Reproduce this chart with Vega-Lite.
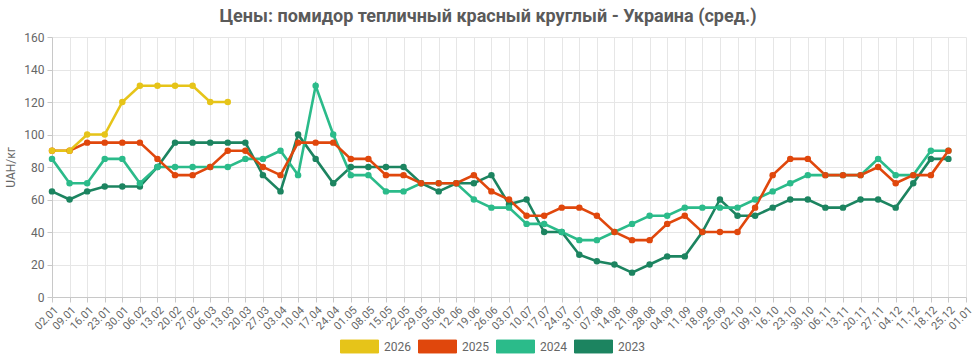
{
  "$schema": "https://vega.github.io/schema/vega-lite/v6.json",
  "autosize": "none",
  "width": 914,
  "height": 260,
  "padding": {"left": 52, "top": 37, "right": 8, "bottom": 64},
  "background": "white",
  "title": {
    "text": "Цены: помидор тепличный красный круглый - Украина (сред.)",
    "font": "Roboto",
    "fontSize": 18,
    "fontWeight": "bold",
    "color": "#5a5a5a",
    "anchor": "middle",
    "dx": -21,
    "offset": 5
  },
  "config": {
    "font": "Roboto",
    "view": {"stroke": null},
    "axis": {
      "gridColor": "#e6e6e6",
      "domainColor": "#c8c8c8",
      "tickColor": "#c8c8c8",
      "labelColor": "#666666",
      "titleColor": "#666666",
      "labelFont": "Roboto",
      "titleFont": "Roboto"
    }
  },
  "data": {
    "values": [
      {"d":"02.01","y":"2023","v":65},{"d":"09.01","y":"2023","v":60},{"d":"16.01","y":"2023","v":65},{"d":"23.01","y":"2023","v":68},{"d":"30.01","y":"2023","v":68},{"d":"06.02","y":"2023","v":68},{"d":"13.02","y":"2023","v":80},{"d":"20.02","y":"2023","v":95},{"d":"27.02","y":"2023","v":95},{"d":"06.03","y":"2023","v":95},{"d":"13.03","y":"2023","v":95},{"d":"20.03","y":"2023","v":95},{"d":"27.03","y":"2023","v":75},{"d":"03.04","y":"2023","v":65},{"d":"10.04","y":"2023","v":100},{"d":"17.04","y":"2023","v":85},{"d":"24.04","y":"2023","v":70},{"d":"01.05","y":"2023","v":80},{"d":"08.05","y":"2023","v":80},{"d":"15.05","y":"2023","v":80},{"d":"22.05","y":"2023","v":80},{"d":"29.05","y":"2023","v":70},{"d":"05.06","y":"2023","v":65},{"d":"12.06","y":"2023","v":70},{"d":"19.06","y":"2023","v":70},{"d":"26.06","y":"2023","v":75},{"d":"03.07","y":"2023","v":57},{"d":"10.07","y":"2023","v":60},{"d":"17.07","y":"2023","v":40},{"d":"24.07","y":"2023","v":40},{"d":"31.07","y":"2023","v":26},{"d":"07.08","y":"2023","v":22},{"d":"14.08","y":"2023","v":20},{"d":"21.08","y":"2023","v":15},{"d":"28.08","y":"2023","v":20},{"d":"04.09","y":"2023","v":25},{"d":"11.09","y":"2023","v":25},{"d":"18.09","y":"2023","v":40},{"d":"25.09","y":"2023","v":60},{"d":"02.10","y":"2023","v":50},{"d":"09.10","y":"2023","v":50},{"d":"16.10","y":"2023","v":55},{"d":"23.10","y":"2023","v":60},{"d":"30.10","y":"2023","v":60},{"d":"06.11","y":"2023","v":55},{"d":"13.11","y":"2023","v":55},{"d":"20.11","y":"2023","v":60},{"d":"27.11","y":"2023","v":60},{"d":"04.12","y":"2023","v":55},{"d":"11.12","y":"2023","v":70},{"d":"18.12","y":"2023","v":85},{"d":"25.12","y":"2023","v":85},
      {"d":"02.01","y":"2024","v":85},{"d":"09.01","y":"2024","v":70},{"d":"16.01","y":"2024","v":70},{"d":"23.01","y":"2024","v":85},{"d":"30.01","y":"2024","v":85},{"d":"06.02","y":"2024","v":70},{"d":"13.02","y":"2024","v":80},{"d":"20.02","y":"2024","v":80},{"d":"27.02","y":"2024","v":80},{"d":"06.03","y":"2024","v":80},{"d":"13.03","y":"2024","v":80},{"d":"20.03","y":"2024","v":85},{"d":"27.03","y":"2024","v":85},{"d":"03.04","y":"2024","v":90},{"d":"10.04","y":"2024","v":75},{"d":"17.04","y":"2024","v":130},{"d":"24.04","y":"2024","v":100},{"d":"01.05","y":"2024","v":75},{"d":"08.05","y":"2024","v":75},{"d":"15.05","y":"2024","v":65},{"d":"22.05","y":"2024","v":65},{"d":"29.05","y":"2024","v":70},{"d":"05.06","y":"2024","v":70},{"d":"12.06","y":"2024","v":70},{"d":"19.06","y":"2024","v":60},{"d":"26.06","y":"2024","v":55},{"d":"03.07","y":"2024","v":55},{"d":"10.07","y":"2024","v":45},{"d":"17.07","y":"2024","v":45},{"d":"24.07","y":"2024","v":40},{"d":"31.07","y":"2024","v":35},{"d":"07.08","y":"2024","v":35},{"d":"14.08","y":"2024","v":40},{"d":"21.08","y":"2024","v":45},{"d":"28.08","y":"2024","v":50},{"d":"04.09","y":"2024","v":50},{"d":"11.09","y":"2024","v":55},{"d":"18.09","y":"2024","v":55},{"d":"25.09","y":"2024","v":55},{"d":"02.10","y":"2024","v":55},{"d":"09.10","y":"2024","v":60},{"d":"16.10","y":"2024","v":65},{"d":"23.10","y":"2024","v":70},{"d":"30.10","y":"2024","v":75},{"d":"06.11","y":"2024","v":75},{"d":"13.11","y":"2024","v":75},{"d":"20.11","y":"2024","v":75},{"d":"27.11","y":"2024","v":85},{"d":"04.12","y":"2024","v":75},{"d":"11.12","y":"2024","v":75},{"d":"18.12","y":"2024","v":90},{"d":"25.12","y":"2024","v":90},
      {"d":"02.01","y":"2025","v":90},{"d":"09.01","y":"2025","v":90},{"d":"16.01","y":"2025","v":95},{"d":"23.01","y":"2025","v":95},{"d":"30.01","y":"2025","v":95},{"d":"06.02","y":"2025","v":95},{"d":"13.02","y":"2025","v":85},{"d":"20.02","y":"2025","v":75},{"d":"27.02","y":"2025","v":75},{"d":"06.03","y":"2025","v":80},{"d":"13.03","y":"2025","v":90},{"d":"20.03","y":"2025","v":90},{"d":"27.03","y":"2025","v":80},{"d":"03.04","y":"2025","v":75},{"d":"10.04","y":"2025","v":95},{"d":"17.04","y":"2025","v":95},{"d":"24.04","y":"2025","v":95},{"d":"01.05","y":"2025","v":85},{"d":"08.05","y":"2025","v":85},{"d":"15.05","y":"2025","v":75},{"d":"22.05","y":"2025","v":75},{"d":"29.05","y":"2025","v":70},{"d":"05.06","y":"2025","v":70},{"d":"12.06","y":"2025","v":70},{"d":"19.06","y":"2025","v":75},{"d":"26.06","y":"2025","v":65},{"d":"03.07","y":"2025","v":60},{"d":"10.07","y":"2025","v":50},{"d":"17.07","y":"2025","v":50},{"d":"24.07","y":"2025","v":55},{"d":"31.07","y":"2025","v":55},{"d":"07.08","y":"2025","v":50},{"d":"14.08","y":"2025","v":40},{"d":"21.08","y":"2025","v":35},{"d":"28.08","y":"2025","v":35},{"d":"04.09","y":"2025","v":45},{"d":"11.09","y":"2025","v":50},{"d":"18.09","y":"2025","v":40},{"d":"25.09","y":"2025","v":40},{"d":"02.10","y":"2025","v":40},{"d":"09.10","y":"2025","v":55},{"d":"16.10","y":"2025","v":75},{"d":"23.10","y":"2025","v":85},{"d":"30.10","y":"2025","v":85},{"d":"06.11","y":"2025","v":75},{"d":"13.11","y":"2025","v":75},{"d":"20.11","y":"2025","v":75},{"d":"27.11","y":"2025","v":80},{"d":"04.12","y":"2025","v":70},{"d":"11.12","y":"2025","v":75},{"d":"18.12","y":"2025","v":75},{"d":"25.12","y":"2025","v":90},
      {"d":"02.01","y":"2026","v":90},{"d":"09.01","y":"2026","v":90},{"d":"16.01","y":"2026","v":100},{"d":"23.01","y":"2026","v":100},{"d":"30.01","y":"2026","v":120},{"d":"06.02","y":"2026","v":130},{"d":"13.02","y":"2026","v":130},{"d":"20.02","y":"2026","v":130},{"d":"27.02","y":"2026","v":130},{"d":"06.03","y":"2026","v":120},{"d":"13.03","y":"2026","v":120}
    ]
  },
  "mark": {"type": "line", "strokeWidth": 2.6, "point": {"filled": true, "size": 42}},
  "encoding": {
    "x": {
      "field": "d",
      "type": "ordinal",
      "scale": {
        "type": "point",
        "padding": 0,
        "domain": ["02.01","09.01","16.01","23.01","30.01","06.02","13.02","20.02","27.02","06.03","13.03","20.03","27.03","03.04","10.04","17.04","24.04","01.05","08.05","15.05","22.05","29.05","05.06","12.06","19.06","26.06","03.07","10.07","17.07","24.07","31.07","07.08","14.08","21.08","28.08","04.09","11.09","18.09","25.09","02.10","09.10","16.10","23.10","30.10","06.11","13.11","20.11","27.11","04.12","11.12","18.12","25.12","01.01"]
      },
      "axis": {
        "title": null,
        "labelAngle": -45,
        "labelFontSize": 11,
        "labelOverlap": false,
        "grid": true,
        "tickSize": 5,
        "labelPadding": 2
      }
    },
    "y": {
      "field": "v",
      "type": "quantitative",
      "scale": {"domain": [0, 160], "nice": false},
      "axis": {
        "title": "UAH/кг",
        "titleFontSize": 12,
        "titleFontWeight": "normal",
        "titlePadding": 6,
        "labelFontSize": 12,
        "labelOverlap": false,
        "values": [0,20,40,60,80,100,120,140,160],
        "tickSize": 5,
        "labelPadding": 3
      }
    },
    "color": {
      "field": "y",
      "type": "nominal",
      "scale": {
        "domain": ["2026", "2025", "2024", "2023"],
        "range": ["#E6C419", "#E0470C", "#2BBB8A", "#1C8460"]
      },
      "legend": {
        "title": null,
        "orient": "none",
        "direction": "horizontal",
        "legendX": 288,
        "legendY": 290,
        "symbolType": "M-1,-0.34h2v0.68h-2z",
        "symbolSize": 1444,
        "symbolStrokeWidth": 1,
        "labelFontSize": 12,
        "labelColor": "#666666",
        "labelOffset": 5,
        "columnPadding": 5,
        "encode": {
          "symbols": {
            "update": {
              "fill": {"scale": "color", "field": "value"},
              "stroke": {"scale": "color", "field": "value"},
              "opacity": {"value": 1},
              "fillOpacity": {"value": 1}
            }
          }
        }
      }
    }
  }
}
